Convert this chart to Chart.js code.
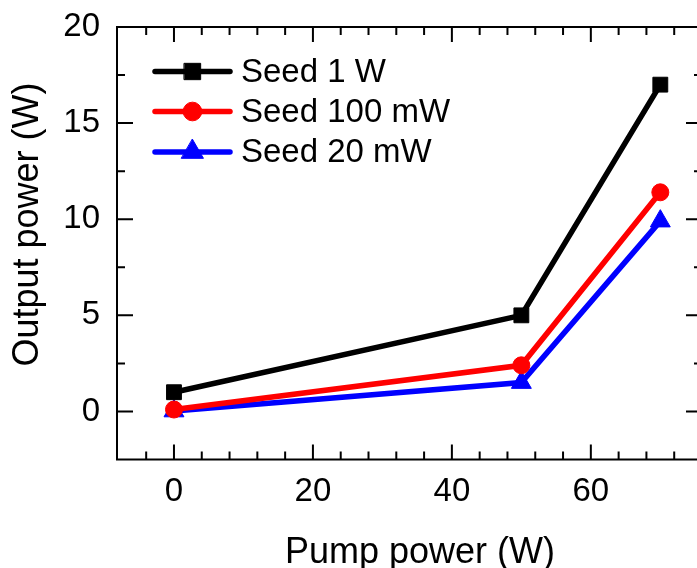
<!DOCTYPE html>
<html>
<head>
<meta charset="utf-8">
<script src="https://cdn.jsdelivr.net/npm/chart.js@4"></script>
<style>
html,body{margin:0;padding:0;background:#fff;overflow:hidden;}
#wrap{width:697px;height:568px;overflow:hidden;position:relative;}
canvas{display:block;}
</style>
</head>
<body>
<div id="wrap"><canvas id="c" width="710" height="568"></canvas></div>
<script>
const pumpPower = [0, 50, 70];
const seed1W = [1.0, 5.0, 17.0];
const seed100mW = [0.1, 2.4, 11.4];
const seed20mW = [0.02, 1.5, 9.9];
const seriesNames = ['Seed 1 W', 'Seed 100 mW', 'Seed 20 mW'];
const xTickValues = [0, 20, 40, 60];
const yTickValues = [0, 5, 10, 15, 20];
const xTitle = 'Pump power (W)';
const yTitle = 'Output power (W)';

const FONT = '"Liberation Sans", Arial, sans-serif';

function pts(ys){ return pumpPower.map((x,i)=>({x:x, y:ys[i]})); }

const AREA = { left: 117, top: 27, right: 702, bottom: 459.5 };

const pinArea = {
  id:'pinArea',
  afterLayout(chart){
    const a = chart.chartArea;
    a.left = AREA.left; a.top = AREA.top; a.right = AREA.right; a.bottom = AREA.bottom;
    a.width = a.right - a.left; a.height = a.bottom - a.top;
    const x = chart.scales.x, y = chart.scales.y;
    x.left = AREA.left; x.right = AREA.right; x.width = AREA.right - AREA.left;
    x.top = AREA.bottom; x.bottom = 568; x.height = 568 - AREA.bottom;
    y.top = AREA.top; y.bottom = AREA.bottom; y.height = AREA.bottom - AREA.top;
    y.left = 0; y.right = AREA.left; y.width = AREA.left;
    x.configure(); y.configure();
    x._labelItems = null; y._labelItems = null;
  }
};

const frame = {
  id:'frame',
  beforeDatasetsDraw(chart){
    const {ctx, chartArea:a, scales:{x, y}} = chart;
    ctx.save();
    ctx.strokeStyle = '#000';
    ctx.lineWidth = 2;
    ctx.strokeRect(a.left, a.top, a.right - a.left, a.bottom - a.top);
    ctx.lineCap = 'butt';
    for (let v = -4; v <= 76; v += 4) {
      const px = x.getPixelForValue(v);
      if (px <= a.left + 1 || px >= a.right - 1) continue;
      const major = xTickValues.includes(v);
      const len = major ? 15 : 8;
      ctx.beginPath();
      ctx.moveTo(px, a.bottom); ctx.lineTo(px, a.bottom - len);
      ctx.moveTo(px, a.top); ctx.lineTo(px, a.top + len);
      ctx.stroke();
    }
    for (let v = -2.5; v <= 20; v += 2.5) {
      const py = y.getPixelForValue(v);
      if (py <= a.top + 1 || py >= a.bottom - 1) continue;
      const major = yTickValues.includes(v);
      const len = major ? 16 : 8;
      ctx.beginPath();
      ctx.moveTo(a.left, py); ctx.lineTo(a.left + len, py);
      ctx.moveTo(a.right, py); ctx.lineTo(a.right - len, py);
      ctx.stroke();
    }
    ctx.restore();
  },
  afterDraw(chart){
    const ctx = chart.ctx;
    ctx.save();
    ctx.fillStyle = '#000';
    ctx.font = '36px ' + FONT;
    ctx.textBaseline = 'alphabetic';
    ctx.textAlign = 'left';
    ctx.fillText(xTitle, 285, 563);
    ctx.translate(37.5, 224.5);
    ctx.rotate(-Math.PI/2);
    ctx.textAlign = 'center';
    ctx.fillText(yTitle, 0, 0);
    ctx.restore();
  }
};

const legendPlugin = {
  id:'lineLegend',
  afterDatasetsDraw(chart){
    const ctx = chart.ctx;
    const rows = [71.5, 111.5, 152];
    chart.data.datasets.forEach((ds, i) => {
      const yy = rows[i];
      ctx.save();
      ctx.strokeStyle = ds.borderColor;
      ctx.lineWidth = 5.5;
      ctx.lineCap = 'round';
      ctx.beginPath();
      ctx.moveTo(155, yy); ctx.lineTo(230, yy);
      ctx.stroke();
      ctx.fillStyle = ds.backgroundColor;
      ctx.strokeStyle = ds.borderColor;
      ctx.lineWidth = 1;
      Chart.helpers.drawPoint(ctx, {pointStyle: ds.pointStyle, radius: ds.pointRadius * 1.1, borderWidth: 1, rotation: 0}, 192.5, yy);
      ctx.fillStyle = '#000';
      ctx.font = '33px ' + FONT;
      ctx.textBaseline = 'middle';
      ctx.textAlign = 'left';
      ctx.fillText(ds.label, 241, yy + 1);
      ctx.restore();
    });
  }
};

function ds(label, data, color, style, r){
  return {
    label, data: pts(data),
    borderColor: color, backgroundColor: color,
    borderWidth: 5.5, pointStyle: style, pointRadius: r, pointHoverRadius: r,
    pointBorderWidth: 1, pointBackgroundColor: color, pointBorderColor: color,
    tension: 0, fill: false
  };
}

new Chart(document.getElementById('c'), {
  type: 'line',
  data: {
    datasets: [
      ds(seriesNames[0], seed1W, '#000000', 'rect', 10.5),
      ds(seriesNames[1], seed100mW, '#ff0000', 'circle', 8.5),
      ds(seriesNames[2], seed20mW, '#0000ff', 'triangle', 11.5)
    ]
  },
  options: {
    responsive: false,
    animation: false,
    devicePixelRatio: 1,
    layout: { padding: { top: 27, right: 8, left: 0, bottom: 0 } },
    plugins: { legend: { display: false }, tooltip: { enabled: false } },
    scales: {
      x: {
        type: 'linear', min: -8.2, max: 76,
        grid: { display: false, drawTicks: false },
        border: { display: false },
        afterBuildTicks: s => { s.ticks = xTickValues.map(v => ({value: v})); },
        ticks: { font: { size: 33, family: FONT }, color: '#000', padding: 13, maxRotation: 0, autoSkip: false }
      },
      y: {
        type: 'linear', min: -2.5, max: 20,
        grid: { display: false, drawTicks: false },
        border: { display: false },
        afterBuildTicks: s => { s.ticks = yTickValues.map(v => ({value: v})); },
        ticks: { font: { size: 33, family: FONT }, color: '#000', padding: 17, autoSkip: false }
      }
    }
  },
  plugins: [pinArea, frame, legendPlugin]
});
</script>
</body>
</html>
